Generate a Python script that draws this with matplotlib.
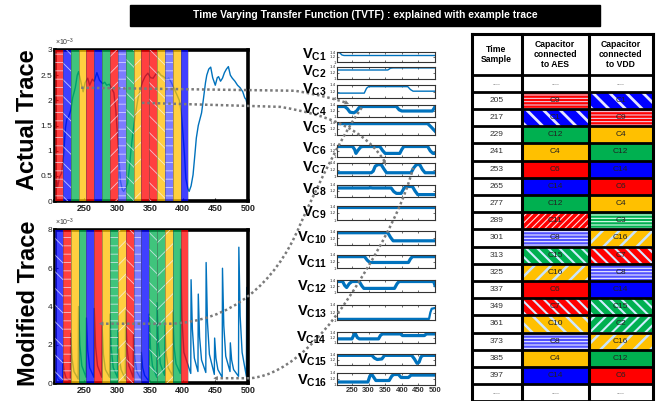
import numpy as np
import matplotlib
matplotlib.use('Agg')
from matplotlib import pyplot as plt
from matplotlib.patches import Rectangle, PathPatch
from matplotlib.path import Path

plt.rcParams['font.family'] = ['Liberation Sans', 'DejaVu Sans']
plt.rcParams['mathtext.fontset'] = 'custom'
plt.rcParams['mathtext.rm'] = 'Liberation Sans'
plt.rcParams['mathtext.bf'] = 'Liberation Sans:bold'

# =====================================================================
# DONNÉES
# =====================================================================

titre = "Time Varying Transfer Function (TVTF) : explained with example trace"

echantillons = [205, 217, 229, 241, 253, 265, 277, 289, 301, 313, 325, 337, 349, 361, 373, 385, 397]
caps_aes = ['C9', 'C1', 'C12', 'C4', 'C6', 'C14', 'C12', 'C11', 'C8', 'C15', 'C16', 'C6', 'C7', 'C10', 'C8', 'C4', 'C14']
caps_vdd = ['C1', 'C9', 'C4', 'C12', 'C14', 'C6', 'C4', 'C3', 'C16', 'C7', 'C8', 'C14', 'C15', 'C2', 'C16', 'C12', 'C6']
largeur_bande = 12

# Trace réelle (x 10^-3)
trace_t = [205, 207, 209, 212, 215, 218, 221, 223, 226, 229, 232, 236, 239, 241, 244, 248, 251, 255, 258, 262,
           265, 269, 273, 278, 281, 284, 288, 291, 295, 298, 300, 302, 305, 308, 310, 313, 316, 319, 321, 324,
           326, 329, 332, 336, 339, 343, 347, 351, 355, 359, 363, 367, 371, 375, 379, 383, 387, 391, 395, 398,
           400, 403, 405, 408, 410, 413, 416, 419, 421, 424, 426, 429, 432, 435, 437, 440, 443, 446, 450, 453,
           455, 458, 461, 464, 467, 470, 473, 476, 480, 484, 488, 492, 495, 497, 499, 500]
trace_v = [0.75, 0.45, 0.28, 0.48, 0.55, 0.90, 1.45, 1.62, 1.68, 1.80, 2.05, 2.25, 2.50, 2.57, 2.40, 2.17, 2.35, 2.44, 2.30, 2.42,
           2.38, 2.55, 2.40, 2.33, 2.36, 2.30, 2.32, 2.25, 2.15, 1.80, 1.40, 1.00, 0.40, 0.22, 0.19, 0.26, 0.35, 0.70, 1.00, 1.35,
           1.55, 1.80, 2.05, 2.25, 2.37, 2.48, 2.54, 2.45, 2.44, 2.52, 2.57, 2.50, 2.47, 2.42, 2.44, 2.35, 2.24, 2.12, 2.00, 1.75,
           1.44, 0.90, 0.45, 0.25, 0.19, 0.30, 0.52, 0.95, 1.25, 1.50, 1.60, 1.75, 2.04, 2.35, 2.50, 2.62, 2.66, 2.45, 2.30, 2.45,
           2.47, 2.38, 2.44, 2.55, 2.62, 2.67, 2.50, 2.44, 2.38, 2.30, 2.25, 2.17, 2.05, 2.02, 1.90, 1.60]

# Trace modifiée (x 10^-3) : pics, décroissance, creux
pic_t = [205, 217, 229, 241, 253, 265, 277, 289, 301, 313, 325, 337, 349, 361, 373, 385, 397, 413, 424, 436, 449, 461, 473, 486, 498]
pic_v = [1.0, 1.2, 2.6, 4.0, 3.4, 3.9, 3.0, 3.6, 2.8, 3.8, 2.6, 1.6, 3.6, 4.2, 3.0, 3.8, 7.0, 5.4, 4.65, 6.3, 2.35, 6.0, 2.1, 7.1, 5.0]
decr2_v = [0.5, 0.6, 1.3, 2.0, 1.7, 1.9, 1.5, 1.8, 1.4, 1.9, 1.3, 0.8, 1.8, 2.1, 1.5, 1.9, 3.4, 2.8, 2.4, 3.2, 1.3, 3.0, 1.2, 3.5, 3.0]
decr5_v = [0.2, 0.25, 0.6, 0.9, 0.8, 0.9, 0.7, 0.8, 0.7, 0.9, 0.6, 0.4, 0.9, 1.0, 0.8, 1.0, 1.6, 1.3, 1.2, 1.5, 0.7, 1.4, 0.7, 1.6, 1.5]
creux_v = [0.05, 0.1, 0.2, 0.3, 0.3, 0.3, 0.3, 0.3, 0.2, 0.3, 0.2, 0.1, 0.3, 0.4, 0.4, 0.5, 0.5, 0.6, 0.55, 0.45, 0.3, 0.6, 0.35, 0.35, 0.6]

# Tensions des capacités (points de rupture : échantillon, tension)
VC1 = [(205, 1.38), (213, 1.37), (220, 1.28), (226, 1.26), (500, 1.26)]
VC2 = [(205, 1.30), (358, 1.30), (366, 1.36), (374, 1.37), (500, 1.37)]
VC3 = [(205, 1.15), (287, 1.15), (294, 1.30), (300, 1.35), (418, 1.35), (426, 1.26), (434, 1.21), (500, 1.21)]
VC4 = [(205, 1.35), (228, 1.35), (236, 1.28), (244, 1.16), (256, 1.14), (264, 1.20), (272, 1.32), (280, 1.35),
       (384, 1.35), (392, 1.24), (400, 1.20), (492, 1.20), (498, 1.30), (500, 1.35)]
VC5 = [(205, 1.35), (478, 1.35), (488, 1.25), (500, 1.12)]
VC6 = [(205, 1.35), (252, 1.35), (258, 1.25), (262, 1.12), (268, 1.22), (276, 1.33), (282, 1.35), (334, 1.35),
       (342, 1.22), (350, 1.12), (394, 1.12), (400, 1.25), (406, 1.35), (478, 1.35), (486, 1.20), (494, 1.12), (500, 1.12)]
VC7 = [(205, 1.10), (308, 1.10), (314, 1.15), (320, 1.30), (328, 1.35), (338, 1.35), (346, 1.22), (354, 1.10),
       (428, 1.10), (436, 1.25), (444, 1.35), (454, 1.35), (462, 1.20), (470, 1.10), (500, 1.10)]
VC8 = [(205, 1.30), (300, 1.30), (306, 1.31), (312, 1.30), (368, 1.30), (376, 1.18), (384, 1.12), (398, 1.12),
       (406, 1.28), (412, 1.35), (432, 1.35), (440, 1.20), (448, 1.08), (500, 1.08)]
VC9 = [(205, 1.36), (500, 1.36)]
VC10 = [(205, 1.35), (358, 1.35), (366, 1.22), (374, 1.12), (500, 1.12)]
VC11 = [(205, 1.35), (288, 1.35), (296, 1.24), (304, 1.17), (420, 1.17), (426, 1.28), (432, 1.35), (500, 1.35)]
VC12 = [(205, 1.35), (222, 1.35), (228, 1.22), (234, 1.15), (242, 1.28), (250, 1.35), (272, 1.35), (280, 1.20),
        (286, 1.12), (378, 1.12), (386, 1.28), (392, 1.35), (496, 1.35), (500, 1.22)]
VC13 = [(205, 1.03), (482, 1.03), (486, 1.20), (490, 1.30), (500, 1.32)]
VC14 = [(205, 1.15), (250, 1.15), (256, 1.30), (260, 1.35), (266, 1.20), (272, 1.15), (330, 1.15), (336, 1.28),
        (342, 1.33), (396, 1.33), (402, 1.27), (468, 1.27), (474, 1.33), (500, 1.33)]
VC15 = [(205, 1.35), (310, 1.35), (318, 1.25), (326, 1.20), (340, 1.22), (348, 1.35), (430, 1.35), (438, 1.22),
        (446, 1.06), (452, 1.10), (458, 1.30), (464, 1.35), (500, 1.35)]
VC16 = [(205, 1.10), (298, 1.10), (304, 1.30), (310, 1.35), (316, 1.25), (322, 1.15), (362, 1.15), (370, 1.30),
        (376, 1.35), (390, 1.35), (398, 1.25), (420, 1.25), (428, 1.33), (500, 1.33)]
tensions = [VC1, VC2, VC3, VC4, VC5, VC6, VC7, VC8, VC9, VC10, VC11, VC12, VC13, VC14, VC15, VC16]
noms_vc = ['C%d' % i for i in range(1, 17)]

# =====================================================================
# STYLES
# =====================================================================

# capacité -> (couleur, motif, densité tableau, couleur hachure, épaisseur hachure)
STYLES = {
    'C1': ('#0000ff', '\\', 2, '#e6e6ff', 2.0),
    'C2': ('#00b050', '/', 3, '#d0eeff', 1.5),
    'C3': ('#00b050', '-', 5, '#e0fff0', 0.8),
    'C4': ('#ffc000', None, 0, None, 1.0),
    'C6': ('#ff0000', None, 0, None, 1.0),
    'C7': ('#ff0000', '\\', 3, '#d8e8ff', 1.5),
    'C8': ('#5050ff', '-', 5, '#eeeeff', 0.8),
    'C9': ('#ff0000', '-', 5, '#e8e8ff', 0.7),
    'C10': ('#ffc000', '\\', 2, '#d0e8ff', 1.8),
    'C11': ('#ff0000', '/', 5, '#ffe0e0', 0.8),
    'C12': ('#00b050', None, 0, None, 1.0),
    'C14': ('#0000ff', None, 0, None, 1.0),
    'C15': ('#00b050', '\\', 3, '#d0eeff', 1.5),
    'C16': ('#ffc000', '/', 2, '#c8e4ff', 1.8),
}
BLEU = '#0072bd'
W, H = 658, 401


def boite(x0, y0, x1, y1):
    """Rectangle en pixels (origine en haut à gauche) -> fraction de figure."""
    return [x0 / W, 1 - y1 / H, (x1 - x0) / W, (y1 - y0) / H]


def patch_hachure(xy, w, h, cap, alpha=1.0, graphe=False, **kw):
    face, motif, dens, hcol, hlw = STYLES[cap]
    hatch = None
    if motif:
        # dans les graphes les rayures sont fines et espacées
        hatch = motif * (2 if graphe else dens)
        if graphe:
            hlw, hcol = 0.6, '#f0f0ff'
    with plt.rc_context({'hatch.linewidth': hlw}):
        p = Rectangle(xy, w, h, facecolor=face, edgecolor=hcol if hatch else face,
                      hatch=hatch, lw=0, alpha=alpha, **kw)
    if hatch and hasattr(p, 'set_hatch_linewidth'):
        p.set_hatch_linewidth(hlw)
    return p


fig = plt.figure(figsize=(W / 100, H / 100), dpi=100)

# =====================================================================
# TRACES (réelle et modifiée)
# =====================================================================

mod_t, mod_v = [], []
for i, t0 in enumerate(pic_t):
    t_fin = pic_t[i + 1] - 0.5 if i + 1 < len(pic_t) else t0 + 11
    for t, v in [(t0, pic_v[i]), (t0 + 2, decr2_v[i]), (t0 + 5, decr5_v[i]), (t_fin, creux_v[i])]:
        mod_t.append(t)
        mod_v.append(v)

ax_haut = fig.add_axes(boite(55, 50, 248, 201))
ax_bas = fig.add_axes(boite(55, 230, 248, 383))

for ax, (tx, ty), caps, ymax, pas_y in [(ax_haut, (trace_t, trace_v), caps_aes, 3, 0.5),
                                         (ax_bas, (mod_t, mod_v), caps_vdd, 8, 2)]:
    ax.plot(tx, ty, color=BLEU, lw=1.0, zorder=2)
    for t0, cap in zip(echantillons, caps):
        ax.add_patch(patch_hachure((t0, 0), largeur_bande, ymax, cap, alpha=0.75, graphe=True, zorder=3))
        ax.axvline(t0, color='#444', lw=0.5, alpha=0.6, zorder=4)
    ax.axvline(echantillons[-1] + largeur_bande, color='#444', lw=0.5, alpha=0.4, zorder=4)
    ax.set_xlim(205, 500)
    ax.set_ylim(0, ymax)
    ax.set_xticks([250, 300, 350, 400, 450, 500])
    ax.set_xticklabels(['250', '300', '350', '400', '450', '500'], fontweight='bold')
    yt = np.arange(0, ymax + 1e-9, pas_y)
    ax.set_yticks(yt)
    ax.set_yticklabels(['%g' % v for v in yt])
    ax.tick_params(labelsize=6, length=2, direction='in', pad=2, colors='#222')
    ax.tick_params(axis='x', labelsize=6.5)
    for s in ax.spines.values():
        s.set_linewidth(2.6)
    ax.text(0, 1.015, r'$\times10^{-3}$', transform=ax.transAxes, fontsize=5, ha='left', va='bottom', color='#333')

# =====================================================================
# TENSIONS DES CAPACITÉS
# =====================================================================

lignes_px = [(52, 62), (67, 79), (85, 98), (105, 117), (122, 135), (145, 157), (163, 176), (185, 197),
             (206, 220), (231, 245), (255, 268), (280, 292), (305, 320), (332, 343), (354, 365), (373, 385)]
labels_y = [55, 72, 90, 110, 128, 149, 168, 190, 213, 238, 262, 287, 312, 338, 360, 381]

fond = fig.add_axes([0, 0, 1, 1], zorder=10)
fond.set_xlim(0, W)
fond.set_ylim(H, 0)
fond.axis('off')

for k, (pts, nom) in enumerate(zip(tensions, noms_vc)):
    y0, y1 = lignes_px[k]
    axc = fig.add_axes(boite(337, y0, 435, y1))
    t, v = zip(*pts)
    lw = 1.0 if k < 3 else (1.6 if k == 12 else 2.3)
    axc.plot(t, v, color=BLEU, lw=lw, solid_joinstyle='round')
    axc.set_xlim(205, 500)
    axc.set_ylim(1.0, 1.4)
    axc.set_yticks([1, 1.2, 1.4])
    axc.set_yticklabels(['1', '1.2', '1.4'])
    axc.set_xticks([250, 300, 350, 400, 450, 500])
    axc.tick_params(labelsize=3.2, length=1.5, width=0.5, direction='in', top=True, right=True, pad=0.8, colors='#333')
    if k == len(tensions) - 1:
        axc.set_xticklabels(['250', '300', '350', '400', '450', '500'], fontweight='bold')
        axc.tick_params(axis='x', labelsize=5.5, pad=1.5)
    else:
        axc.set_xticklabels([])
    for s in axc.spines.values():
        s.set_linewidth(0.8)
        s.set_color('#333')
    fond.text(327, labels_y[k], r'$\mathbf{V_{%s}}$' % nom, fontsize=10.5, ha='right', va='center')

# =====================================================================
# TITRE ET ÉTIQUETTES
# =====================================================================

fond.add_patch(Rectangle((130, 5), 470, 21, color='black'))
fond.text(365, 15.5, titre, color='white', fontsize=7.5, fontweight='bold', ha='center', va='center')
fond.text(27, 120, 'Actual Trace', rotation=90, fontsize=17, fontweight='bold', ha='center', va='center')
fond.text(29, 303, 'Modified Trace', rotation=90, fontsize=17, fontweight='bold', ha='center', va='center')

# =====================================================================
# TABLEAU
# =====================================================================

cols = [471.5, 521.5, 588.5, 653]
haut_entete = 74.5
h_ligne = 17.2
y_tab = 34

entetes = ['Time\nSample', 'Capacitor\nconnected\nto AES', 'Capacitor\nconnected\nto VDD']
for j, txt in enumerate(entetes):
    fond.text((cols[j] + cols[j + 1]) / 2, (y_tab + haut_entete) / 2, txt, fontsize=6.2,
              fontweight='bold', ha='center', va='center', linespacing=1.15)

lignes = ['....'] + echantillons + ['....']
for i, ech in enumerate(lignes):
    yl = haut_entete + i * h_ligne
    yc = yl + h_ligne / 2
    if ech == '....':
        for j in range(3):
            fond.text((cols[j] + cols[j + 1]) / 2, yc, '....', fontsize=5, color='#555', ha='center', va='center')
        continue
    fond.text((cols[0] + cols[1]) / 2, yc, str(ech), fontsize=6, color='#333', ha='center', va='center')
    for j, cap in enumerate([caps_aes[i - 1], caps_vdd[i - 1]]):
        fond.add_patch(patch_hachure((cols[j + 1], yl), cols[j + 2] - cols[j + 1], h_ligne, cap))
        fond.text((cols[j + 1] + cols[j + 2]) / 2, yc, cap, fontsize=6, color='#222', ha='center', va='center')

y_fin = haut_entete + len(lignes) * h_ligne
for x in cols:
    fond.plot([x, x], [y_tab, y_fin], color='black', lw=2.2, solid_capstyle='projecting')
for i in range(len(lignes) + 1):
    y = haut_entete + i * h_ligne
    fond.plot([cols[0], cols[-1]], [y, y], color='black', lw=2.0)
fond.plot([cols[0], cols[-1]], [y_tab, y_tab], color='black', lw=2.2)

# =====================================================================
# FLÈCHES POINTILLÉES (liens trace -> tensions)
# =====================================================================


def vers_px(ax, x, y):
    return fond.transData.inverted().transform(ax.transData.transform((x, y)))


def courbe(points, codes):
    chemin = Path(points, codes)
    fond.add_patch(PathPatch(chemin, fill=False, ls=(0, (1, 1.1)), lw=1.8, ec='#7a7a7a', clip_on=False))


def pointe(tip, tail):
    fond.annotate('', xy=tip, xytext=tail, arrowprops=dict(arrowstyle='-|>', color='#7a7a7a', lw=0,
                                                            mutation_scale=8, shrinkA=0, shrinkB=0))


L, C = Path.LINETO, Path.CURVE4
p0 = vers_px(ax_haut, 245, 2.25)
courbe([p0, (295, p0[1] + 3), (320, 95), (335, 99), (347, 103)], [Path.MOVETO, L, C, C, C])
pointe((349, 104), (340, 100))

p1 = vers_px(ax_haut, 338, 1.95)
courbe([p1, (280, p1[1] + 4), (330, 115), (365, 130), (385, 162)], [Path.MOVETO, L, C, C, C])
pointe((386, 165), (381, 156))

p2 = vers_px(ax_bas, 275, 3.1)
courbe([p2, (170, p2[1]), (230, p2[1] - 2), (275, 285), (300, 225), (320, 180), (345, 130), (363, 106)],
       [Path.MOVETO, L, C, C, C, C, C, C])
pointe(vers_px(ax_bas, 272, 3.1), (p2[0] + 8, p2[1]))

p3 = vers_px(ax_bas, 450, 0.25)
courbe([p3, (250, p3[1]), (290, p3[1] - 3), (330, 330), (360, 280), (385, 240), (405, 200), (413, 168)],
       [Path.MOVETO, L, C, C, C, C, C, C])
pointe(vers_px(ax_bas, 447, 0.25), (p3[0] + 8, p3[1]))

plt.savefig('out.png', dpi=100)
plt.close()
